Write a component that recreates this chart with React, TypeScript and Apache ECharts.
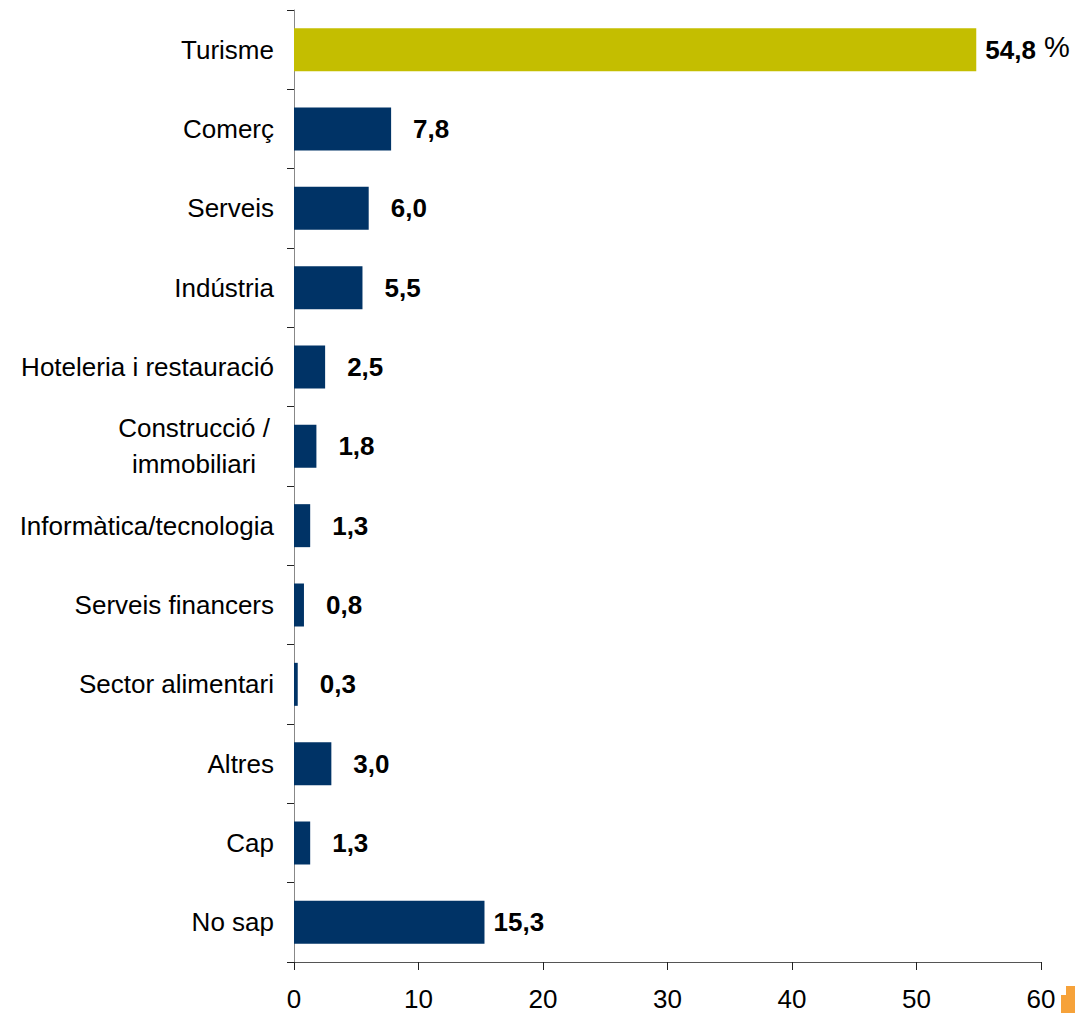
import React, { useEffect, useRef } from 'react';
import * as echarts from 'echarts';

const categories = [
  'Turisme',
  'Comerç',
  'Serveis',
  'Indústria',
  'Hoteleria i restauració',
  'Construcció /\nimmobiliari',
  'Informàtica/tecnologia',
  'Serveis financers',
  'Sector alimentari',
  'Altres',
  'Cap',
  'No sap',
];
const values = [54.8, 7.8, 6.0, 5.5, 2.5, 1.8, 1.3, 0.8, 0.3, 3.0, 1.3, 15.3];
const xMin = 0;
const xMax = 60;
const xStep = 10;
const unitLabel = '%';
const highlightIndex = 0;

const FONT = '"Liberation Sans", Arial, sans-serif';
const NAVY = '#003366';
const OLIVE = '#C4BE00';
const FS = 26;

const fmt = (v: number) => v.toFixed(1).replace('.', ',');

export default function App() {
  const ref = useRef<HTMLDivElement>(null);
  useEffect(() => {
    if (!ref.current) return;
    const chart = echarts.init(ref.current, null, { renderer: 'svg' });
    const data = values.map((v, i) => ({
      value: v,
      itemStyle: { color: i === highlightIndex ? OLIVE : NAVY },
      label: {
        show: true,
        position: 'right',
        distance: v >= 10 ? 9 : 22,
        formatter: i === highlightIndex ? `{v|${fmt(v)}}{p| ${unitLabel}}` : `{v|${fmt(v)}}`,
        rich: {
          v: { fontFamily: FONT, fontSize: FS, fontWeight: 'bold', color: '#000' },
          p: { fontFamily: FONT, fontSize: 29, fontWeight: 'normal', color: '#000', padding: [0, 0, 6, 0] },
        },
      },
    }));
    chart.setOption({
      animation: false,
      grid: { left: 294, right: 34, top: 10, bottom: 51, containLabel: false },
      xAxis: {
        type: 'value',
        min: xMin,
        max: xMax,
        interval: xStep,
        splitLine: { show: false },
        axisLine: { show: true, lineStyle: { color: '#555', width: 1 } },
        axisTick: { show: true, length: 8, lineStyle: { color: '#222' } },
        axisLabel: { fontFamily: FONT, fontSize: FS, color: '#000', margin: 24 },
      },
      yAxis: {
        type: 'category',
        data: categories,
        inverse: true,
        axisLine: { show: true, lineStyle: { color: '#888', width: 1 } },
        axisTick: { show: true, length: 7, alignWithLabel: false, lineStyle: { color: '#222' } },
        axisLabel: {
          fontFamily: FONT,
          fontSize: FS,
          color: '#000',
          margin: 20,
          formatter: (s: string) =>
            s.includes('\n') ? s.split('\n').map((l) => `{c|${l}}`).join('\n') : s,
          rich: {
            c: { fontFamily: FONT, fontSize: FS, color: '#000', width: 160, align: 'center', lineHeight: 36 },
          },
        },
      },
      series: [
        {
          type: 'bar',
          data,
          barWidth: 43,
        },
      ],
      graphic: [
        {
          type: 'polygon',
          shape: {
            points: [
              [1061, 1013],
              [1061, 995],
              [1066, 995],
              [1066, 986],
              [1075, 986],
              [1075, 1013],
            ],
          },
          style: { fill: '#F6A23A' },
        },
      ],
    });
    return () => chart.dispose();
  }, []);
  return (
    <div
      ref={ref}
      style={{ position: 'absolute', left: 0, top: 0, width: 1075, height: 1013, background: '#fff' }}
    />
  );
}
